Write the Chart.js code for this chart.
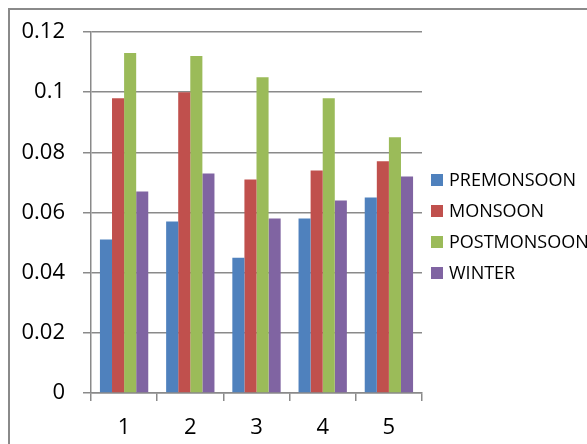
<!DOCTYPE html>
<html>
<head>
<meta charset="utf-8">
<script src="https://cdn.jsdelivr.net/npm/chart.js@4"></script>
<style>
  html, body { margin: 0; padding: 0; background: #fff; overflow: hidden; }
  #wrap { position: relative; width: 587px; height: 444px; }
  #frame { position: absolute; left: 8px; top: 8px; width: 600px; height: 460px; border: 2px solid #8a8a8a; box-sizing: border-box; }
  canvas { position: absolute; left: 0; top: 0; }
</style>
</head>
<body>
<div id="wrap">
  <div id="frame"></div>
  <canvas id="myChart" width="587" height="444"></canvas>
</div>
<script>
const categories = ["1", "2", "3", "4", "5"];
const premonsoon = [0.051, 0.057, 0.045, 0.058, 0.065];
const monsoon = [0.098, 0.100, 0.071, 0.074, 0.077];
const postmonsoon = [0.113, 0.112, 0.105, 0.098, 0.085];
const winter = [0.067, 0.073, 0.058, 0.064, 0.072];
const seriesNames = ["PREMONSOON", "MONSOON", "POSTMONSOON", "WINTER"];
const colors = ["#4F81BD", "#C0504D", "#9BBB59", "#8064A2"];
const yTicks = [0, 0.02, 0.04, 0.06, 0.08, 0.1, 0.12];

const FONT = "'Open Sans', 'Liberation Sans', sans-serif";
const gridColor = "#8a8a8a";

// legend drawn by hand so the long label can run off the edge like the original
const sideLegend = {
	id: "sideLegend",
	afterDraw(chart) {
		const ctx = chart.ctx;
		ctx.save();
		ctx.font = "18px " + FONT;
		ctx.textBaseline = "middle";
		chart.data.datasets.forEach((ds, i) => {
			const y = 180 + i * 31;
			ctx.fillStyle = ds.backgroundColor;
			ctx.fillRect(431, y - 6, 12, 12);
			ctx.fillStyle = "#000";
			ctx.fillText(ds.label, 449, y + 1);
		});
		ctx.restore();
	}
};

const ctx = document.getElementById("myChart").getContext("2d");
new Chart(ctx, {
	type: "bar",
	data: {
		labels: categories,
		datasets: [premonsoon, monsoon, postmonsoon, winter].map((vals, i) => ({
			label: seriesNames[i],
			data: vals,
			backgroundColor: colors[i],
			borderWidth: 0,
			categoryPercentage: 0.73,
			barPercentage: 1
		}))
	},
	options: {
		responsive: false,
		animation: false,
		layout: { padding: { left: 0, top: 32, right: 165, bottom: 0 } },
		plugins: {
			legend: { display: false },
			tooltip: { enabled: false }
		},
		scales: {
			x: {
				grid: { offset: true, drawOnChartArea: false, drawTicks: true, tickLength: 8, color: gridColor, lineWidth: 1.5 },
				border: { display: true, color: gridColor, width: 1.5 },
				ticks: { color: "#000", font: { family: FONT, size: 22 }, padding: 14 },
				afterFit(s) { s.height = 51; }
			},
			y: {
				min: 0,
				max: 0.12,
				afterBuildTicks(s) { s.ticks = yTicks.map(v => ({ value: v })); },
				grid: { color: gridColor, lineWidth: 1.5, tickLength: 8 },
				border: { display: true, color: gridColor, width: 1.5 },
				ticks: {
					color: "#000",
					font: { family: FONT, size: 22 },
					padding: 18,
					callback: v => String(+v.toFixed(2))
				},
				afterFit(s) { s.width = 91; }
			}
		}
	},
	plugins: [sideLegend]
});
</script>
</body>
</html>
